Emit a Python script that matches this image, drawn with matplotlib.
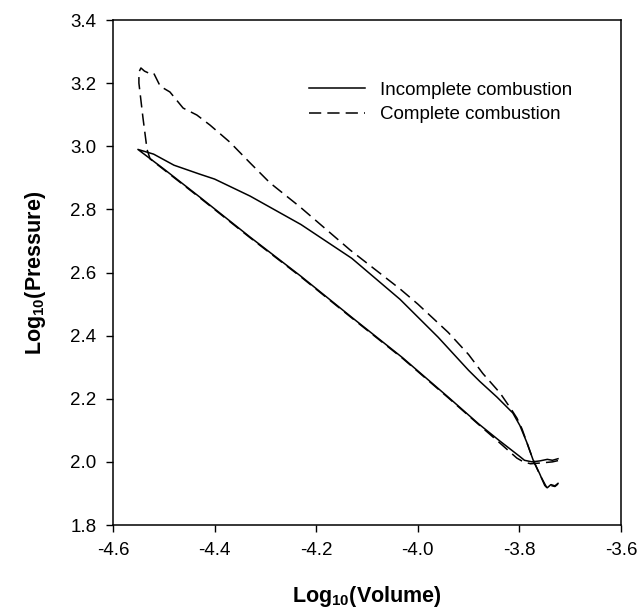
import matplotlib
matplotlib.use('Agg')
import matplotlib.pyplot as plt

plt.rcParams['font.family'] = ['Liberation Sans', 'DejaVu Sans']
plt.rcParams['mathtext.fontset'] = 'custom'
plt.rcParams['mathtext.rm'] = 'Liberation Sans'
plt.rcParams['mathtext.bf'] = 'Liberation Sans:bold'

# incomplete combustion: compression branch, then expansion branch
inc_vol = [-3.724, -3.735, -3.745, -3.760, -3.775, -3.790, -3.800, -3.840, -3.880,
           -3.940, -4.030, -4.130, -4.230, -4.330, -4.430, -4.500, -4.551,
           -4.520, -4.480, -4.430, -4.400, -4.330, -4.230, -4.130, -4.035, -3.960,
           -3.900, -3.878, -3.844, -3.813, -3.799, -3.785, -3.773, -3.760, -3.750,
           -3.745, -3.738, -3.730, -3.724]
inc_pres = [2.010, 2.005, 2.008, 2.003, 2.000, 2.005, 2.018, 2.068, 2.120,
            2.205, 2.330, 2.458, 2.588, 2.712, 2.840, 2.928, 2.990,
            2.975, 2.940, 2.912, 2.896, 2.842, 2.752, 2.645, 2.515, 2.395,
            2.290, 2.255, 2.205, 2.155, 2.115, 2.060, 2.006, 1.962, 1.925,
            1.918, 1.928, 1.924, 1.932]

# complete combustion
com_vol = [-3.724, -3.735, -3.748, -3.762, -3.778, -3.792, -3.805, -3.840, -3.880,
           -3.940, -4.030, -4.130, -4.230, -4.330, -4.430, -4.500, -4.527,
           -4.533, -4.541, -4.549, -4.549, -4.545, -4.538, -4.530, -4.520, -4.507,
           -4.488, -4.462, -4.435, -4.409, -4.370, -4.330, -4.291, -4.232, -4.133,
           -4.035, -4.000, -3.940, -3.900, -3.872, -3.838, -3.815, -3.805, -3.795,
           -3.785, -3.773, -3.760, -3.750, -3.745, -3.738, -3.730, -3.724]
com_pres = [2.004, 2.000, 1.998, 1.996, 1.994, 2.000, 2.012, 2.062, 2.118,
            2.203, 2.328, 2.456, 2.586, 2.710, 2.838, 2.926, 2.960,
            2.990, 3.090, 3.200, 3.235, 3.248, 3.238, 3.232, 3.232, 3.190,
            3.172, 3.121, 3.099, 3.067, 3.013, 2.947, 2.884, 2.808, 2.671,
            2.548, 2.500, 2.410, 2.340, 2.280, 2.218, 2.164, 2.139, 2.105,
            2.060, 2.006, 1.960, 1.930, 1.915, 1.925, 1.922, 1.930]

x_ticks = [-4.6, -4.4, -4.2, -4.0, -3.8, -3.6]
y_ticks = [1.8, 2.0, 2.2, 2.4, 2.6, 2.8, 3.0, 3.2, 3.4]

fig = plt.figure(figsize=(6.39, 6.12), dpi=100)
ax = fig.add_axes([113/639, 87/612, 508/639, 505/612])

ax.plot(inc_vol, inc_pres, color='black', linewidth=1.1, label='Incomplete combustion')
ax.plot(com_vol, com_pres, color='black', linewidth=1.1, dashes=[8, 4],
        label='Complete combustion')

ax.set_xlim(-4.6, -3.6)
ax.set_ylim(1.8, 3.4)
ax.set_xticks(x_ticks)
ax.set_yticks(y_ticks)
ax.set_xticklabels(['%.1f' % v for v in x_ticks])
ax.set_yticklabels(['%.1f' % v for v in y_ticks])
ax.tick_params(direction='out', length=5, width=1, labelsize=13.5, pad=7)
for s in ax.spines.values():
    s.set_linewidth(1.1)

ax.set_xlabel(r'Log$_{\mathbf{10}}$(Volume)', fontsize=15.5, fontweight='bold', labelpad=18)
ax.set_ylabel(r'Log$_{\mathbf{10}}$(Pressure)', fontsize=15.5, fontweight='bold', labelpad=16)

ax.legend(loc='upper left', bbox_to_anchor=(0.385, 0.878), frameon=False, fontsize=13.5,
          handlelength=3.0, handletextpad=0.8, labelspacing=0.4, borderpad=0,
          borderaxespad=0)

fig.savefig('out.png', dpi=100)
